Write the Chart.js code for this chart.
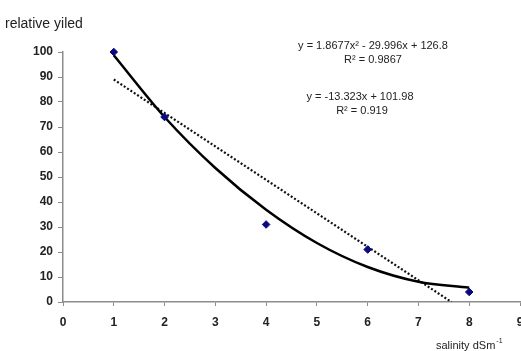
<!DOCTYPE html>
<html>
<head>
<meta charset="utf-8">
<script src="https://cdn.jsdelivr.net/npm/chart.js@4/dist/chart.umd.min.js"></script>
<style>
  html, body { margin: 0; padding: 0; background: #fff; overflow: hidden; }
  canvas { display: block; }
</style>
</head>
<body>
<canvas id="chart" width="525" height="351"></canvas>
<script>
// measured points
const salinity = [1, 2, 4, 6, 8];
const relYield = [100, 74, 31, 21, 4];

// polynomial trend line
const polyX = [1, 2, 3, 4, 5, 6, 7, 8];
const polyY = [98.7, 74.0, 53.6, 36.9, 23.6, 14.0, 8.1, 5.7];

// linear trend line ends
const linX = [1, 7.65];
const linY = [89, 0];

const xTicks = [0, 1, 2, 3, 4, 5, 6, 7, 8, 9];
const yTicks = [0, 10, 20, 30, 40, 50, 60, 70, 80, 90, 100];

const toXY = (xs, ys) => xs.map((x, i) => ({ x, y: ys[i] }));

const FONT = "'Liberation Sans', Arial, sans-serif";
const AXIS = '#8c8c8c';

// equation labels + axis captions
const labelsPlugin = {
  id: 'labels',
  afterDraw(chart) {
    const ctx = chart.ctx;
    ctx.save();
    ctx.fillStyle = '#222';
    ctx.textBaseline = 'middle';

    ctx.font = '14px ' + FONT;
    ctx.textAlign = 'left';
    ctx.fillText('relative yiled', 5, 24);

    ctx.font = '11px ' + FONT;
    ctx.textAlign = 'center';
    ctx.fillText('y = 1.8677x\u00B2 - 29.996x + 126.8', 373, 46);
    ctx.fillText('R\u00B2 = 0.9867', 373, 60);
    ctx.fillText('y = -13.323x + 101.98', 360, 97);
    ctx.fillText('R\u00B2 = 0.919', 362, 111);

    ctx.textAlign = 'left';
    ctx.fillText('salinity dSm', 436, 346);
    const w = ctx.measureText('salinity dSm').width;
    ctx.font = '7px ' + FONT;
    ctx.fillText('-1', 436 + w + 1, 341);
    ctx.restore();
  }
};

new Chart(document.getElementById('chart'), {
  type: 'scatter',
  data: {
    datasets: [
      {
        data: toXY(polyX, polyY),
        showLine: true,
        borderColor: '#000',
        borderWidth: 2.5,
        pointRadius: 0,
        cubicInterpolationMode: 'monotone',
        order: 2
      },
      {
        data: toXY(linX, linY),
        showLine: true,
        borderColor: '#111',
        borderWidth: 2.2,
        borderDash: [2, 2],
        pointRadius: 0,
        order: 3
      },
      {
        data: toXY(salinity, relYield),
        showLine: false,
        clip: false,
        pointStyle: 'rectRot',
        pointRadius: 3.8,
        backgroundColor: '#0a0a80',
        borderColor: '#0a0a80',
        borderWidth: 1,
        order: 1
      }
    ]
  },
  options: {
    responsive: false,
    animation: false,
    layout: { padding: { top: 52, right: 2, left: 0, bottom: 0 } },
    plugins: {
      legend: { display: false },
      tooltip: { enabled: false }
    },
    scales: {
      x: {
        type: 'linear',
        min: 0,
        max: 9,
        afterBuildTicks: s => { s.ticks = xTicks.map(v => ({ value: v })); },
        afterFit: s => { s.height = 49; s.paddingLeft = 0; s.paddingRight = 0; },
        grid: { drawOnChartArea: false, color: AXIS, tickLength: 4 },
        border: { color: AXIS, width: 1.5 },
        ticks: {
          color: '#222',
          padding: 9,
          maxRotation: 0,
          autoSkip: false,
          font: { family: FONT, size: 12, weight: 'bold' }
        }
      },
      y: {
        min: 0,
        max: 100,
        afterBuildTicks: s => { s.ticks = yTicks.map(v => ({ value: v })); },
        afterFit: s => { s.width = 63; s.paddingTop = 0; s.paddingBottom = 0; },
        grid: { drawOnChartArea: false, color: AXIS, tickLength: 5 },
        border: { color: AXIS, width: 1.5 },
        ticks: {
          color: '#222',
          padding: 5,
          font: { family: FONT, size: 12, weight: 'bold' }
        }
      }
    }
  },
  plugins: [labelsPlugin]
});
</script>
</body>
</html>
